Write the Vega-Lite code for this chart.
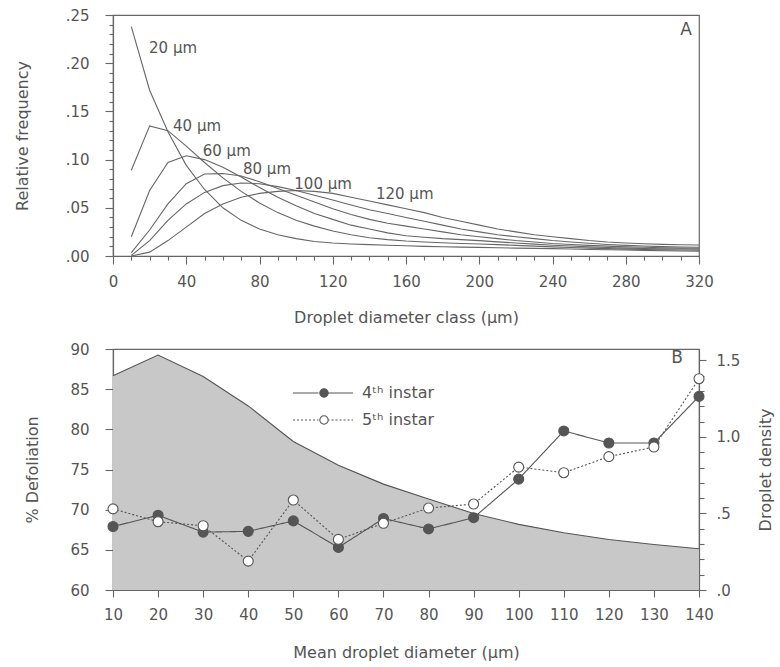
{
  "$schema": "https://vega.github.io/schema/vega-lite/v6.json",
  "padding": {"left": 13, "top": 7, "right": 2, "bottom": 5},
  "spacing": 15,
  "config": {
    "font": "DejaVu Sans",
    "view": {"stroke": "#666", "strokeWidth": 1.2},
    "axis": {"grid": false, "labelFlush": false, "labelOverlap": false, "domainColor": "#666", "domainWidth": 1.2, "tickColor": "#666", "tickWidth": 1.1, "labelColor": "#555", "labelFontSize": 15, "titleColor": "#555", "titleFontSize": 16, "titleFontWeight": "normal", "labelFont": "DejaVu Sans", "titleFont": "DejaVu Sans"},
    "text": {"font": "DejaVu Sans"}
  },
  "resolve": {"legend": {"strokeDash": "independent", "fill": "independent"}},
  "datasets": {
    "freq": [
      {"s":"20","d":10,"f":0.238},{"s":"20","d":20,"f":0.172},{"s":"20","d":30,"f":0.129},{"s":"20","d":40,"f":0.094},{"s":"20","d":50,"f":0.069},{"s":"20","d":60,"f":0.050},{"s":"20","d":70,"f":0.037},{"s":"20","d":80,"f":0.028},{"s":"20","d":90,"f":0.022},{"s":"20","d":100,"f":0.018},{"s":"20","d":110,"f":0.015},{"s":"20","d":120,"f":0.0135},{"s":"20","d":130,"f":0.0125},{"s":"20","d":140,"f":0.0118},{"s":"20","d":150,"f":0.0112},{"s":"20","d":160,"f":0.0106},{"s":"20","d":170,"f":0.0100},{"s":"20","d":180,"f":0.0096},{"s":"20","d":190,"f":0.0092},{"s":"20","d":200,"f":0.0089},{"s":"20","d":210,"f":0.0086},{"s":"20","d":220,"f":0.0082},{"s":"20","d":230,"f":0.0079},{"s":"20","d":240,"f":0.0076},{"s":"20","d":250,"f":0.0072},{"s":"20","d":260,"f":0.0068},{"s":"20","d":270,"f":0.0065},{"s":"20","d":280,"f":0.0062},{"s":"20","d":290,"f":0.0058},{"s":"20","d":300,"f":0.0055},{"s":"20","d":310,"f":0.0052},{"s":"20","d":320,"f":0.0050},
      {"s":"40","d":10,"f":0.089},{"s":"40","d":20,"f":0.135},{"s":"40","d":30,"f":0.130},{"s":"40","d":40,"f":0.114},{"s":"40","d":50,"f":0.097},{"s":"40","d":60,"f":0.081},{"s":"40","d":70,"f":0.067},{"s":"40","d":80,"f":0.055},{"s":"40","d":90,"f":0.045},{"s":"40","d":100,"f":0.037},{"s":"40","d":110,"f":0.031},{"s":"40","d":120,"f":0.026},{"s":"40","d":130,"f":0.022},{"s":"40","d":140,"f":0.019},{"s":"40","d":150,"f":0.017},{"s":"40","d":160,"f":0.0155},{"s":"40","d":170,"f":0.0145},{"s":"40","d":180,"f":0.0137},{"s":"40","d":190,"f":0.0130},{"s":"40","d":200,"f":0.0125},{"s":"40","d":210,"f":0.0118},{"s":"40","d":220,"f":0.0110},{"s":"40","d":230,"f":0.0102},{"s":"40","d":240,"f":0.0095},{"s":"40","d":250,"f":0.0088},{"s":"40","d":260,"f":0.0082},{"s":"40","d":270,"f":0.0076},{"s":"40","d":280,"f":0.0071},{"s":"40","d":290,"f":0.0067},{"s":"40","d":300,"f":0.0064},{"s":"40","d":310,"f":0.0062},{"s":"40","d":320,"f":0.0060},
      {"s":"60","d":10,"f":0.020},{"s":"60","d":20,"f":0.068},{"s":"60","d":30,"f":0.097},{"s":"60","d":40,"f":0.104},{"s":"60","d":50,"f":0.100},{"s":"60","d":60,"f":0.092},{"s":"60","d":70,"f":0.082},{"s":"60","d":80,"f":0.071},{"s":"60","d":90,"f":0.061},{"s":"60","d":100,"f":0.052},{"s":"60","d":110,"f":0.044},{"s":"60","d":120,"f":0.038},{"s":"60","d":130,"f":0.032},{"s":"60","d":140,"f":0.028},{"s":"60","d":150,"f":0.024},{"s":"60","d":160,"f":0.021},{"s":"60","d":170,"f":0.0195},{"s":"60","d":180,"f":0.018},{"s":"60","d":190,"f":0.017},{"s":"60","d":200,"f":0.016},{"s":"60","d":210,"f":0.0147},{"s":"60","d":220,"f":0.0135},{"s":"60","d":230,"f":0.0123},{"s":"60","d":240,"f":0.0112},{"s":"60","d":250,"f":0.0103},{"s":"60","d":260,"f":0.0095},{"s":"60","d":270,"f":0.0088},{"s":"60","d":280,"f":0.0082},{"s":"60","d":290,"f":0.0078},{"s":"60","d":300,"f":0.0074},{"s":"60","d":310,"f":0.0072},{"s":"60","d":320,"f":0.0070},
      {"s":"80","d":10,"f":0.0035},{"s":"80","d":20,"f":0.027},{"s":"80","d":30,"f":0.054},{"s":"80","d":40,"f":0.075},{"s":"80","d":50,"f":0.085},{"s":"80","d":60,"f":0.0855},{"s":"80","d":70,"f":0.083},{"s":"80","d":80,"f":0.077},{"s":"80","d":90,"f":0.070},{"s":"80","d":100,"f":0.063},{"s":"80","d":110,"f":0.056},{"s":"80","d":120,"f":0.049},{"s":"80","d":130,"f":0.043},{"s":"80","d":140,"f":0.038},{"s":"80","d":150,"f":0.034},{"s":"80","d":160,"f":0.031},{"s":"80","d":170,"f":0.028},{"s":"80","d":180,"f":0.025},{"s":"80","d":190,"f":0.022},{"s":"80","d":200,"f":0.020},{"s":"80","d":210,"f":0.018},{"s":"80","d":220,"f":0.016},{"s":"80","d":230,"f":0.0145},{"s":"80","d":240,"f":0.013},{"s":"80","d":250,"f":0.012},{"s":"80","d":260,"f":0.011},{"s":"80","d":270,"f":0.0102},{"s":"80","d":280,"f":0.0095},{"s":"80","d":290,"f":0.009},{"s":"80","d":300,"f":0.0085},{"s":"80","d":310,"f":0.0082},{"s":"80","d":320,"f":0.0080},
      {"s":"100","d":10,"f":0.0007},{"s":"100","d":20,"f":0.016},{"s":"100","d":30,"f":0.037},{"s":"100","d":40,"f":0.054},{"s":"100","d":50,"f":0.066},{"s":"100","d":60,"f":0.073},{"s":"100","d":70,"f":0.0757},{"s":"100","d":80,"f":0.075},{"s":"100","d":90,"f":0.072},{"s":"100","d":100,"f":0.068},{"s":"100","d":110,"f":0.063},{"s":"100","d":120,"f":0.058},{"s":"100","d":130,"f":0.053},{"s":"100","d":140,"f":0.048},{"s":"100","d":150,"f":0.044},{"s":"100","d":160,"f":0.040},{"s":"100","d":170,"f":0.036},{"s":"100","d":180,"f":0.032},{"s":"100","d":190,"f":0.028},{"s":"100","d":200,"f":0.025},{"s":"100","d":210,"f":0.022},{"s":"100","d":220,"f":0.020},{"s":"100","d":230,"f":0.018},{"s":"100","d":240,"f":0.016},{"s":"100","d":250,"f":0.0145},{"s":"100","d":260,"f":0.0132},{"s":"100","d":270,"f":0.012},{"s":"100","d":280,"f":0.011},{"s":"100","d":290,"f":0.0103},{"s":"100","d":300,"f":0.0097},{"s":"100","d":310,"f":0.0093},{"s":"100","d":320,"f":0.0090},
      {"s":"120","d":10,"f":0.0},{"s":"120","d":20,"f":0.004},{"s":"120","d":30,"f":0.016},{"s":"120","d":40,"f":0.030},{"s":"120","d":50,"f":0.044},{"s":"120","d":60,"f":0.054},{"s":"120","d":70,"f":0.061},{"s":"120","d":80,"f":0.065},{"s":"120","d":90,"f":0.067},{"s":"120","d":100,"f":0.068},{"s":"120","d":110,"f":0.067},{"s":"120","d":120,"f":0.065},{"s":"120","d":130,"f":0.061},{"s":"120","d":140,"f":0.057},{"s":"120","d":150,"f":0.053},{"s":"120","d":160,"f":0.049},{"s":"120","d":170,"f":0.045},{"s":"120","d":180,"f":0.040},{"s":"120","d":190,"f":0.036},{"s":"120","d":200,"f":0.032},{"s":"120","d":210,"f":0.028},{"s":"120","d":220,"f":0.025},{"s":"120","d":230,"f":0.022},{"s":"120","d":240,"f":0.020},{"s":"120","d":250,"f":0.018},{"s":"120","d":260,"f":0.016},{"s":"120","d":270,"f":0.0145},{"s":"120","d":280,"f":0.0135},{"s":"120","d":290,"f":0.0127},{"s":"120","d":300,"f":0.0121},{"s":"120","d":310,"f":0.0117},{"s":"120","d":320,"f":0.0114}
    ],
    "alabels": [
      {"label":"20 μm","x":19.7,"y":0.216},
      {"label":"40 μm","x":32.8,"y":0.135},
      {"label":"60 μm","x":49,"y":0.109},
      {"label":"80 μm","x":71,"y":0.090},
      {"label":"100 μm","x":99,"y":0.075},
      {"label":"120 μm","x":143.6,"y":0.064}
    ],
    "density": [
      {"d":10,"dens":1.40},{"d":20,"dens":1.535},{"d":30,"dens":1.395},{"d":40,"dens":1.203},{"d":50,"dens":0.971},{"d":60,"dens":0.816},{"d":70,"dens":0.692},{"d":80,"dens":0.595},{"d":90,"dens":0.50},{"d":100,"dens":0.429},{"d":110,"dens":0.374},{"d":120,"dens":0.33},{"d":130,"dens":0.297},{"d":140,"dens":0.27}
    ],
    "defol": [
      {"instar":"4ᵗʰ instar","d":10,"pct":67.9},{"instar":"4ᵗʰ instar","d":20,"pct":69.3},{"instar":"4ᵗʰ instar","d":30,"pct":67.2},{"instar":"4ᵗʰ instar","d":40,"pct":67.3},{"instar":"4ᵗʰ instar","d":50,"pct":68.6},{"instar":"4ᵗʰ instar","d":60,"pct":65.3},{"instar":"4ᵗʰ instar","d":70,"pct":68.9},{"instar":"4ᵗʰ instar","d":80,"pct":67.6},{"instar":"4ᵗʰ instar","d":90,"pct":69.0},{"instar":"4ᵗʰ instar","d":100,"pct":73.8},{"instar":"4ᵗʰ instar","d":110,"pct":79.8},{"instar":"4ᵗʰ instar","d":120,"pct":78.3},{"instar":"4ᵗʰ instar","d":130,"pct":78.3},{"instar":"4ᵗʰ instar","d":140,"pct":84.1},
      {"instar":"5ᵗʰ instar","d":10,"pct":70.1},{"instar":"5ᵗʰ instar","d":20,"pct":68.5},{"instar":"5ᵗʰ instar","d":30,"pct":68.0},{"instar":"5ᵗʰ instar","d":40,"pct":63.6},{"instar":"5ᵗʰ instar","d":50,"pct":71.2},{"instar":"5ᵗʰ instar","d":60,"pct":66.3},{"instar":"5ᵗʰ instar","d":70,"pct":68.3},{"instar":"5ᵗʰ instar","d":80,"pct":70.2},{"instar":"5ᵗʰ instar","d":90,"pct":70.7},{"instar":"5ᵗʰ instar","d":100,"pct":75.3},{"instar":"5ᵗʰ instar","d":110,"pct":74.6},{"instar":"5ᵗʰ instar","d":120,"pct":76.6},{"instar":"5ᵗʰ instar","d":130,"pct":77.8},{"instar":"5ᵗʰ instar","d":140,"pct":86.3}
    ]
  },
  "vconcat": [
    {
      "width": 586,
      "height": 241,
      "layer": [
        {
          "data": {"name": "freq"},
          "mark": {"type": "line", "color": "#666", "strokeWidth": 1.1},
          "encoding": {
            "x": {"field": "d", "type": "quantitative", "scale": {"domain": [0, 320], "nice": false},
                  "axis": {"orient": "bottom", "values": [0,40,80,120,160,200,240,280,320], "format": "d", "title": "Droplet diameter class (μm)", "tickSize": 8, "labelPadding": 10, "titlePadding": 20}},
            "y": {"field": "f", "type": "quantitative", "scale": {"domain": [0, 0.25], "nice": false},
                  "axis": {"orient": "left", "values": [0,0.05,0.1,0.15,0.2,0.25], "labelExpr": "substring(format(datum.value, '.2f'), 1)", "title": "Relative frequency", "tickSize": 8, "labelPadding": 16, "titlePadding": 35}},
            "detail": {"field": "s", "type": "nominal"}
          }
        },
        {
          "data": {"name": "alabels"},
          "mark": {"type": "text", "align": "left", "baseline": "middle", "fontSize": 15, "color": "#555"},
          "encoding": {
            "x": {"field": "x", "type": "quantitative",
                  "axis": {"orient": "bottom", "values": [10,20,30,50,60,70,90,100,110,130,140,150,170,180,190,210,220,230,250,260,270,290,300,310], "labels": false, "domain": false, "tickSize": 4, "title": null}},
            "y": {"field": "y", "type": "quantitative",
                  "axis": {"orient": "left", "values": [0.01,0.02,0.03,0.04,0.06,0.07,0.08,0.09,0.11,0.12,0.13,0.14,0.16,0.17,0.18,0.19,0.21,0.22,0.23,0.24], "labels": false, "domain": false, "tickSize": 4, "title": null}},
            "text": {"field": "label"}
          }
        },
        {
          "data": {"values": [{}]},
          "mark": {"type": "text", "text": "A", "fontSize": 17, "color": "#555", "dx": -13, "dy": 15, "align": "center", "baseline": "middle"},
          "encoding": {
            "x": {"datum": 320, "type": "quantitative", "axis": null},
            "y": {"datum": 0.25, "type": "quantitative", "axis": null}
          }
        }
      ],
      "resolve": {"axis": {"x": "independent", "y": "independent"}}
    },
    {
      "width": 586,
      "height": 241,
      "resolve": {"scale": {"y": "independent"}},
      "layer": [
        {
          "data": {"name": "density"},
          "layer": [
            {
              "mark": {"type": "area", "color": "#c8c8c8"},
              "encoding": {
                "x": {"field": "d", "type": "quantitative", "scale": {"domain": [10, 140], "nice": false},
                      "axis": {"orient": "bottom", "values": [10,20,30,40,50,60,70,80,90,100,110,120,130,140], "title": "Mean droplet diameter (μm)", "tickSize": 7, "labelPadding": 10, "titlePadding": 22}},
                "y": {"field": "dens", "type": "quantitative", "scale": {"domain": [0, 1.575], "nice": false},
                      "axis": {"orient": "right", "values": [0, 0.5, 1, 1.5], "labelExpr": "datum.value < 1 ? substring(format(datum.value, '.1f'), 1) : format(datum.value, '.1f')", "title": "Droplet density", "titleAngle": -90, "tickSize": 7, "labelPadding": 10, "titlePadding": 34}}
              }
            },
            {
              "mark": {"type": "line", "color": "#555", "strokeWidth": 1.1},
              "encoding": {
                "x": {"field": "d", "type": "quantitative"},
                "y": {"field": "dens", "type": "quantitative",
                      "axis": {"orient": "right", "values": [0.1,0.2,0.3,0.4,0.6,0.7,0.8,0.9,1.1,1.2,1.3,1.4], "labels": false, "domain": false, "tickSize": 5, "title": null}}
              }
            }
          ],
          "resolve": {"axis": {"y": "independent"}}
        },
        {
          "data": {"name": "defol"},
          "layer": [
            {
              "mark": {"type": "line", "color": "#555", "strokeWidth": 1.1},
              "encoding": {
                "x": {"field": "d", "type": "quantitative"},
                "y": {"field": "pct", "type": "quantitative", "scale": {"domain": [60, 90], "nice": false},
                      "axis": {"orient": "left", "values": [60,65,70,75,80,85,90], "title": "% Defoliation", "tickSize": 8, "labelPadding": 16, "titlePadding": 29}},
                "strokeDash": {"field": "instar", "type": "nominal", "scale": {"range": [[1, 0], [2, 2]]},
                  "legend": {"orient": "none", "legendX": 202, "legendY": 36, "title": null, "padding": 0, "symbolType": "M-6,0L-0.9,0M0.9,0L6,0", "symbolSize": 100, "symbolStrokeColor": "#555", "symbolStrokeWidth": 1.1, "labelFontSize": 16, "labelColor": "#555", "labelOffset": 31, "rowPadding": 11}}
              }
            },
            {
              "mark": {"type": "point", "filled": true, "size": 100, "stroke": "#555", "strokeWidth": 1.1, "opacity": 1},
              "encoding": {
                "x": {"field": "d", "type": "quantitative"},
                "y": {"field": "pct", "type": "quantitative"},
                "fill": {"field": "instar", "type": "nominal", "scale": {"domain": ["4ᵗʰ instar", "5ᵗʰ instar"], "range": ["#555555", "#ffffff"]},
                  "legend": {"orient": "none", "legendX": 203, "legendY": 36, "title": null, "padding": 0, "symbolType": "circle", "symbolSize": 70, "symbolStrokeColor": "#555", "symbolStrokeWidth": 1.1, "symbolOpacity": 1, "labelFontSize": 16, "labelOpacity": 0, "labelOffset": 31, "rowPadding": 11}}
              }
            },
            {
              "data": {"values": [{}]},
              "mark": {"type": "text", "text": "B", "fontSize": 17, "color": "#555", "dx": -22, "dy": 9, "align": "center", "baseline": "middle"},
              "encoding": {
                "x": {"datum": 140, "type": "quantitative"},
                "y": {"datum": 90, "type": "quantitative"}
              }
            }
          ]
        }
      ]
    }
  ]
}
